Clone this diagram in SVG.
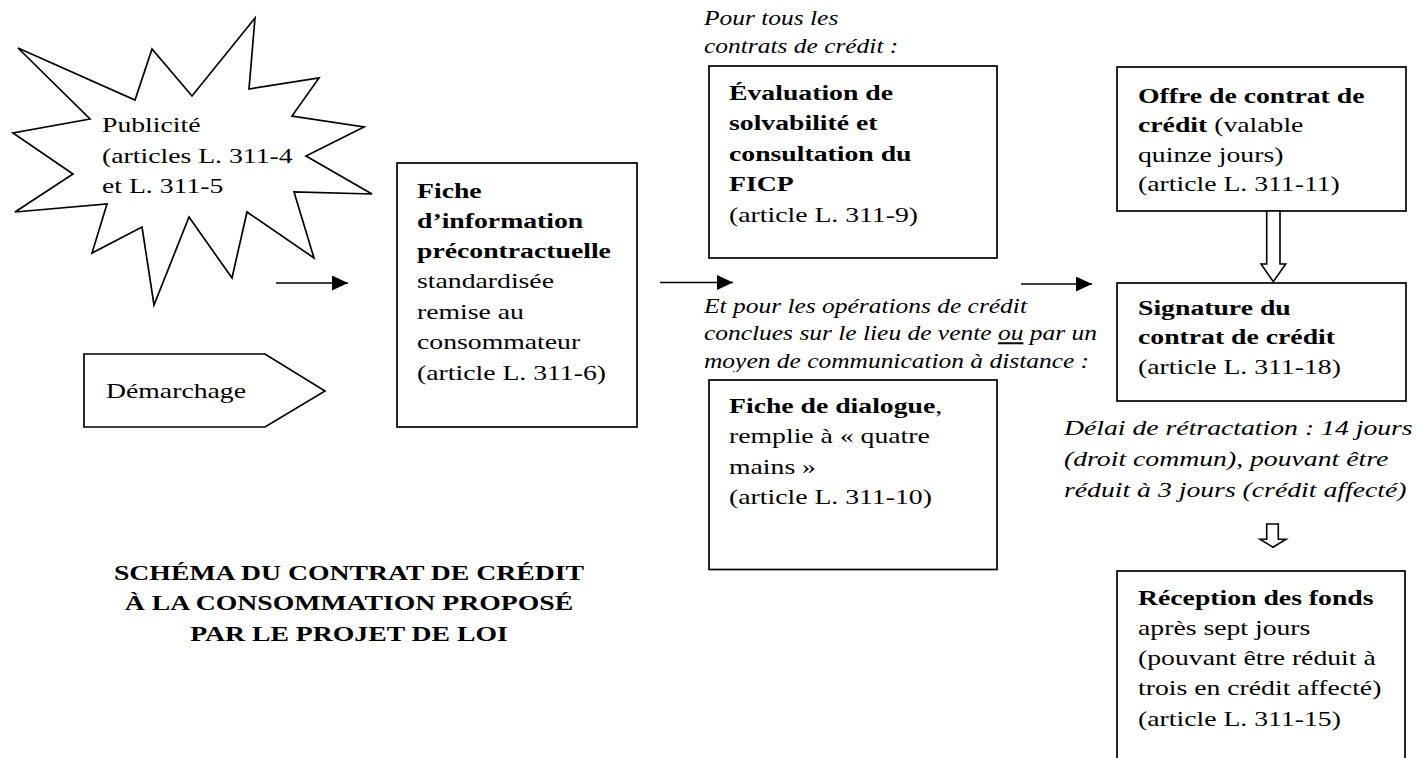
<svg xmlns="http://www.w3.org/2000/svg" width="1419" height="758" viewBox="0 0 1419 758">
<defs>
<style>
.t{font-family:"Liberation Serif","Times New Roman",serif;font-size:22px;fill:#000}
.s{font-size:20.2px}
.b{font-weight:bold}
.i{font-style:italic}
.box{fill:#fff;stroke:#000;stroke-width:1.7}
.ln{stroke:#000;stroke-width:1.6;fill:none}
.hol{fill:#fff;stroke:#000;stroke-width:1.6;stroke-linejoin:miter}
</style>
<marker id="ah" markerUnits="userSpaceOnUse" markerWidth="17" markerHeight="16" refX="16" refY="7.5" orient="auto">
<path d="M0,0 L16,7.5 L0,15 z" fill="#000"/>
</marker>
<clipPath id="clipEt" clipPathUnits="userSpaceOnUse"><rect x="690" y="280" width="420" height="92"/></clipPath>
</defs>
<rect width="1419" height="758" fill="#fff"/>

<g id="publicite">
<polygon class="box" points="18,48 135,100 152,49 192,96 255,18 249,89 319,78 292,116 364,127 306,156 372,194 294,192 314,258 247,212 232,278 189,217 154,305 142,227 92,253 107,204 15,212 73,174 13,133 90,119"/>
<text class="t" transform="translate(102,132) scale(1.26,1)"><tspan x="0" y="0">Publicité</tspan><tspan x="0" y="31">(articles L. 311-4</tspan><tspan x="0" y="61">et L. 311-5</tspan></text>
</g>

<g id="demarchage">
<polygon class="box" points="84,354 265,354 325,391 265,427 84,427"/>
<text class="t" transform="translate(106,398) scale(1.26,1)">Démarchage</text>
</g>

<g id="fiche-information">
<rect class="box" x="397" y="163" width="240" height="264"/>
<text class="t" transform="translate(417,198) scale(1.26,1)"><tspan class="b" x="0" y="0">Fiche</tspan><tspan class="b" x="0" y="30">d’information</tspan><tspan class="b" x="0" y="60">précontractuelle</tspan><tspan x="0" y="90">standardisée</tspan><tspan x="0" y="121">remise au</tspan><tspan x="0" y="151">consommateur</tspan><tspan x="0" y="182">(article L. 311-6)</tspan></text>
</g>

<g id="label-tous">
<text class="t s i" transform="translate(704,25) scale(1.26,1)"><tspan x="0" y="0">Pour tous les</tspan><tspan x="0" y="28">contrats de crédit :</tspan></text>
</g>

<g id="evaluation">
<rect class="box" x="709" y="66" width="288" height="192"/>
<text class="t" transform="translate(729,100) scale(1.26,1)"><tspan class="b" x="0" y="0">Évaluation de</tspan><tspan class="b" x="0" y="30.5">solvabilité et</tspan><tspan class="b" x="0" y="61">consultation du</tspan><tspan class="b" x="0" y="91.5">FICP</tspan><tspan x="0" y="122">(article L. 311-9)</tspan></text>
</g>

<g id="label-operations" clip-path="url(#clipEt)">
<text class="t s i" transform="translate(704,312.5) scale(1.26,1)"><tspan x="0" y="0">Et pour les opérations de crédit</tspan><tspan x="0" y="28">conclues sur le lieu de vente <tspan text-decoration="underline">ou</tspan> par un</tspan><tspan x="0" y="56">moyen de communication à distance :</tspan></text>
</g>

<g id="fiche-dialogue">
<rect class="box" x="709" y="380" width="288" height="189.5"/>
<text class="t" transform="translate(729,413) scale(1.26,1)"><tspan x="0" y="0"><tspan class="b">Fiche de dialogue</tspan>,</tspan><tspan x="0" y="30.5">remplie à « quatre</tspan><tspan x="0" y="61">mains »</tspan><tspan x="0" y="91.5">(article L. 311-10)</tspan></text>
</g>

<g id="offre">
<rect class="box" x="1117" y="67" width="289" height="144"/>
<text class="t" transform="translate(1138,103) scale(1.26,1)"><tspan class="b" x="0" y="0">Offre de contrat de</tspan><tspan x="0" y="29.5"><tspan class="b">crédit</tspan> (valable</tspan><tspan x="0" y="59">quinze jours)</tspan><tspan x="0" y="88.5">(article L. 311-11)</tspan></text>
</g>

<g id="signature">
<rect class="box" x="1117" y="283" width="289" height="118"/>
<text class="t" transform="translate(1138,315) scale(1.26,1)"><tspan class="b" x="0" y="0">Signature du</tspan><tspan class="b" x="0" y="29.5">contrat de crédit</tspan><tspan x="0" y="59">(article L. 311-18)</tspan></text>
</g>

<g id="label-delai">
<text class="t i" transform="translate(1064,435) scale(1.26,1)"><tspan x="0" y="0">Délai de rétractation : 14 jours</tspan><tspan x="0" y="31">(droit commun), pouvant être</tspan><tspan x="0" y="62">réduit à 3 jours (crédit affecté)</tspan></text>
</g>

<g id="reception">
<rect class="box" x="1117" y="571" width="288" height="200"/>
<text class="t" transform="translate(1138,605) scale(1.26,1)"><tspan class="b" x="0" y="0">Réception des fonds</tspan><tspan x="0" y="30">après sept jours</tspan><tspan x="0" y="60">(pouvant être réduit à</tspan><tspan x="0" y="90">trois en crédit affecté)</tspan><tspan x="0" y="121">(article L. 311-15)</tspan></text>
</g>

<g id="titre">
<text class="t b" text-anchor="middle" transform="translate(349,580) scale(1.26,1)"><tspan x="0" y="0">SCHÉMA DU CONTRAT DE CRÉDIT</tspan><tspan x="0" y="30.5">À LA CONSOMMATION PROPOSÉ</tspan><tspan x="0" y="61">PAR LE PROJET DE LOI</tspan></text>
</g>

<g id="connectors">
<line class="ln" x1="276" y1="283" x2="348" y2="283" marker-end="url(#ah)"/>
<line class="ln" x1="660" y1="282.5" x2="733" y2="282.5" marker-end="url(#ah)"/>
<line class="ln" x1="1021" y1="284" x2="1092" y2="284" marker-end="url(#ah)"/>
<polygon class="hol" points="1266.7,211 1280,211 1280,264 1285.7,264 1273.3,281.7 1261,264 1266.7,264"/>
<polygon class="hol" points="1266.7,524 1278.3,524 1278.3,539.3 1286,539.3 1273,547.3 1260,539.3 1266.7,539.3"/>
</g>
</svg>
